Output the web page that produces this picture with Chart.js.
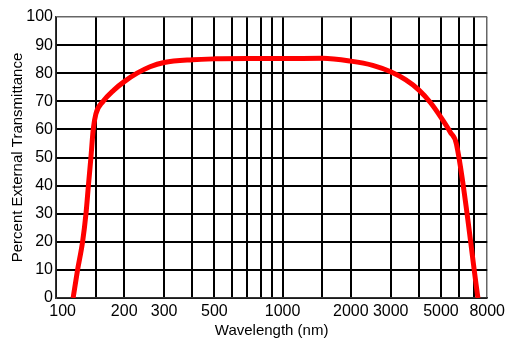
<!DOCTYPE html>
<html>
<head>
<meta charset="utf-8">
<script src="https://cdn.jsdelivr.net/npm/chart.js@4"></script>
<style>
  html, body { margin: 0; padding: 0; background: #fff; }
  #wrap { width: 509px; height: 342px; position: relative; }
</style>
</head>
<body>
<div id="wrap"><canvas id="myChart"></canvas></div>
<script>
// Transmittance curve
const wavelengths = [119, 124.5, 131, 135.6, 139, 142.6, 146, 150, 161.5, 180, 200, 228, 260, 300, 400, 500, 700, 1000, 1500, 2000, 2500, 3000, 3500, 4000, 4500, 5000, 5500, 5850, 7280];
const transmittance = [0, 10, 20, 30, 40, 50, 60, 65.5, 70, 74, 77, 80, 82.3, 83.8, 84.8, 85.1, 85.2, 85.2, 85.3, 84.3, 82.8, 80.5, 77.6, 74, 69.5, 64.3, 59, 54.8, 0];

// grid lines and labelled ticks on the wavelength axis
const xGridTicks = [100, 150, 200, 300, 400, 500, 600, 700, 800, 900, 1000, 1500, 2000, 3000, 4000, 5000, 6000, 7000, 8000];
const xTickLabels = [100, 200, 300, 500, 1000, 2000, 3000, 5000, 8000];

const fontFamily = "'Liberation Sans', Arial, sans-serif";

const points = wavelengths.map((w, i) => ({ x: w, y: transmittance[i] }));

const ctx = document.getElementById("myChart").getContext("2d");

new Chart(ctx, {
  type: 'scatter',
  data: {
    datasets: [{
      data: points,
      showLine: true,
      borderColor: '#ff0000',
      backgroundColor: '#ff0000',
      borderWidth: 5,
      pointRadius: 0,
      cubicInterpolationMode: 'monotone',
      borderCapStyle: 'butt'
    }]
  },
  options: {
    responsive: true,
    maintainAspectRatio: false,
    animation: false,
    layout: { padding: { top: 17, right: 18, left: 0, bottom: 0 } },
    plugins: {
      legend: { display: false },
      tooltip: { enabled: false }
    },
    scales: {
      x: {
        type: 'logarithmic',
        min: 100,
        max: 8000,
        afterBuildTicks: scale => {
          scale.ticks = xGridTicks.map(v => ({ value: v }));
        },
        afterFit: scale => { scale.height = 44; },
        ticks: {
          autoSkip: false,
          maxRotation: 0,
          padding: 4,
          color: '#000',
          font: { family: fontFamily, size: 16 },
          callback: v => {
            if (!xTickLabels.includes(v)) return '';
            return v === 100 ? '   100' : String(v);
          }
        },
        grid: {
          drawTicks: false,
          color: c => (c.tick && c.tick.value === 8000) ? '#666' : '#000',
          lineWidth: c => (c.tick && c.tick.value === 8000) ? 1.5 : 2
        },
        border: { color: '#333', width: 1.5 },
        title: {
          display: true,
          text: 'Wavelength (nm)',
          color: '#000',
          font: { family: fontFamily, size: 15 },
          padding: { top: 0, bottom: 2 }
        }
      },
      y: {
        min: 0,
        max: 100,
        afterFit: scale => { scale.width = 56; },
        ticks: {
          stepSize: 10,
          padding: 3,
          color: '#000',
          font: { family: fontFamily, size: 16 }
        },
        grid: {
          drawTicks: false,
          color: c => (c.tick && c.tick.value === 100) ? '#666' : '#000',
          lineWidth: c => (c.tick && c.tick.value === 100) ? 1.5 : 2
        },
        border: { color: '#333', width: 1.5 },
        title: {
          display: true,
          text: 'Percent External Transmittance',
          color: '#000',
          font: { family: fontFamily, size: 15 },
          padding: { top: 9, bottom: 0 }
        }
      }
    }
  }
});
</script>
</body>
</html>
